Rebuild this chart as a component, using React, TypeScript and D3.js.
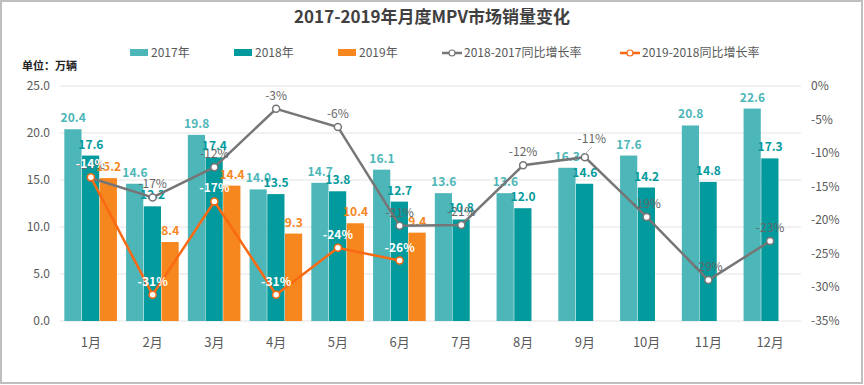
import React, { useEffect, useRef } from "react";
import * as d3 from "d3";

const months = ["1月", "2月", "3月", "4月", "5月", "6月", "7月", "8月", "9月", "10月", "11月", "12月"];
const sales2017 = [20.4, 14.6, 19.8, 14.0, 14.7, 16.1, 13.6, 13.6, 16.3, 17.6, 20.8, 22.6];
const sales2018 = [17.6, 12.2, 17.4, 13.5, 13.8, 12.7, 10.8, 12.0, 14.6, 14.2, 14.8, 17.3];
const sales2019 = [15.2, 8.4, 14.4, 9.3, 10.4, 9.4, null, null, null, null, null, null];
const growth1817 = [-0.137, -0.166, -0.121, -0.034, -0.061, -0.208, -0.207, -0.118, -0.106, -0.195, -0.289, -0.231];
const growth1918 = [-0.136, -0.311, -0.172, -0.311, -0.241, -0.26, null, null, null, null, null, null];
const leftTicks = [0, 5, 10, 15, 20, 25];
const rightTicks = [0, -0.05, -0.1, -0.15, -0.2, -0.25, -0.3, -0.35];

const barSeries = [
  { name: "2017年", values: sales2017, color: "#4DB6B8" },
  { name: "2018年", values: sales2018, color: "#029A9C" },
  { name: "2019年", values: sales2019, color: "#F6861E" },
];
const lineSeries = [
  { name: "2018-2017同比增长率", values: growth1817, color: "#767676", label: "#666666", bold: false },
  { name: "2019-2018同比增长率", values: growth1918, color: "#F96A12", label: "#ffffff", bold: true },
];

const FONT = "'Noto Sans CJK SC', 'Noto Sans', sans-serif";
// excel style: plain hyphen instead of unicode minus
const pct = (v: number) => Math.round(v * 100) + "%";

export default function App() {
  const ref = useRef<SVGSVGElement>(null);

  useEffect(() => {
    document.body.style.margin = "0";
    const svg = d3.select(ref.current);
    svg.selectAll("*").remove();

    const left = 60, right = 801, top = 86, bottom = 321;

    svg.append("rect").attr("x", 1).attr("y", 1).attr("width", 861).attr("height", 382)
      .attr("fill", "#fff").attr("stroke", "#BFBFBF").attr("stroke-width", 2);

    // title
    svg.append("text").attr("x", 432).attr("y", 23).attr("text-anchor", "middle")
      .attr("font-size", 17).attr("font-weight", "bold").attr("fill", "#404040")
      .text("2017-2019年月度MPV市场销量变化");

    svg.append("text").attr("x", 22).attr("y", 70).attr("font-size", 11)
      .attr("font-weight", "bold").attr("fill", "#222").text("单位：万辆");

    var x = d3.scaleBand().domain(months).range([left, right]).paddingInner(0.14).paddingOuter(0.07);
    var xs = d3.scaleBand().domain(["0", "1", "2"]).range([0, x.bandwidth()]);
    var y = d3.scaleLinear().domain([0, 25]).range([bottom, top]);
    var y2 = d3.scaleLinear().domain([-0.35, 0]).range([bottom, top]);

    // grid
    svg.append("g").selectAll("line").data(leftTicks).join("line")
      .attr("x1", left).attr("x2", right)
      .attr("y1", d => y(d)).attr("y2", d => y(d))
      .attr("stroke", "#E3E3E3").attr("stroke-width", 1);

    svg.append("g").selectAll("text").data(leftTicks).join("text")
      .attr("x", 50).attr("y", d => y(d) + 4).attr("text-anchor", "end")
      .attr("font-size", 12).attr("fill", "#595959").text(d => d.toFixed(1));

    svg.append("g").selectAll("text").data(rightTicks).join("text")
      .attr("x", 811).attr("y", d => y2(d) + 4)
      .attr("font-size", 12).attr("fill", "#595959").text(d => pct(d));

    svg.append("g").selectAll("text").data(months).join("text")
      .attr("x", d => x(d)! + x.bandwidth() / 2).attr("y", 347).attr("text-anchor", "middle")
      .attr("font-size", 13).attr("fill", "#595959").text(d => d);

    // bars
    barSeries.forEach((s, si) => {
      const data = months.map((m, i) => ({ m, v: s.values[i] })).filter(d => d.v != null);
      const g = svg.append("g");
      g.selectAll("rect").data(data).join("rect")
        .attr("x", d => x(d.m)! + xs(String(si))!)
        .attr("width", xs.bandwidth() - 0.5)
        .attr("y", d => y(d.v as number))
        .attr("height", d => bottom - y(d.v as number))
        .attr("fill", s.color);
    });
    barSeries.forEach((s, si) => {
      const data = months.map((m, i) => ({ m, v: s.values[i] })).filter(d => d.v != null);
      svg.append("g").selectAll("text").data(data).join("text")
        .attr("x", d => x(d.m)! + xs(String(si))! + xs.bandwidth() / 2)
        .attr("y", d => y(d.v as number) - 7)
        .attr("text-anchor", "middle").attr("font-size", 12).attr("font-weight", "bold")
        .attr("fill", s.color).text(d => (d.v as number).toFixed(1));
    });

    // lines
    lineSeries.forEach((s, li) => {
      const data = months.map((m, i) => ({ m, v: s.values[i] })).filter(d => d.v != null);
      const cx = (d: any) => x(d.m)! + x.bandwidth() / 2;
      svg.append("path").datum(data)
        .attr("fill", "none").attr("stroke", s.color).attr("stroke-width", 2.5)
        .attr("d", d3.line<any>().x(cx).y(d => y2(d.v)));
      svg.append("g").selectAll("circle").data(data).join("circle")
        .attr("cx", cx).attr("cy", d => y2(d.v)).attr("r", 3.5)
        .attr("fill", "#fff").attr("stroke", s.color).attr("stroke-width", 1.5);
      // 9月 label was dragged up-left in the original, with a leader line
      const moved = (d: any) => li === 0 && d.m === "9月";
      svg.append("g").selectAll("line").data(data.filter(moved)).join("line")
        .attr("x1", d => cx(d)).attr("y1", d => y2(d.v) - 3)
        .attr("x2", d => cx(d) + 7).attr("y2", d => y2(d.v) - 10)
        .attr("stroke", "#A6A6A6").attr("stroke-width", 0.8);
      svg.append("g").selectAll("text").data(data).join("text")
        .attr("x", d => cx(d) + (moved(d) ? 7 : 0))
        .attr("y", d => y2(d.v) - (moved(d) ? 14 : 9)).attr("text-anchor", "middle")
        .attr("font-size", 12).attr("font-weight", s.bold ? "bold" : "normal")
        .attr("fill", s.label).text(d => pct(d.v));
    });

    // legend
    const lg = svg.append("g").attr("font-size", 12).attr("fill", "#595959");
    const barLegX = [130, 234, 338];
    barSeries.forEach((s, i) => {
      lg.append("rect").attr("x", barLegX[i]).attr("y", 49).attr("width", 18).attr("height", 7).attr("fill", s.color);
      lg.append("text").attr("x", barLegX[i] + 21).attr("y", 57).attr("fill", "#595959").text(s.name);
    });
    const lineLegX = [442, 620];
    lineSeries.forEach((s, i) => {
      lg.append("line").attr("x1", lineLegX[i]).attr("x2", lineLegX[i] + 20).attr("y1", 53).attr("y2", 53)
        .attr("stroke", s.color).attr("stroke-width", 2.5);
      lg.append("circle").attr("cx", lineLegX[i] + 10).attr("cy", 53).attr("r", 3)
        .attr("fill", "#fff").attr("stroke", s.color).attr("stroke-width", 1.2);
      lg.append("text").attr("x", lineLegX[i] + 22).attr("y", 57).attr("fill", "#595959").text(s.name);
    });
  }, []);

  return (
    <svg ref={ref} width={864} height={385} style={{ display: "block", fontFamily: FONT }} />
  );
}
